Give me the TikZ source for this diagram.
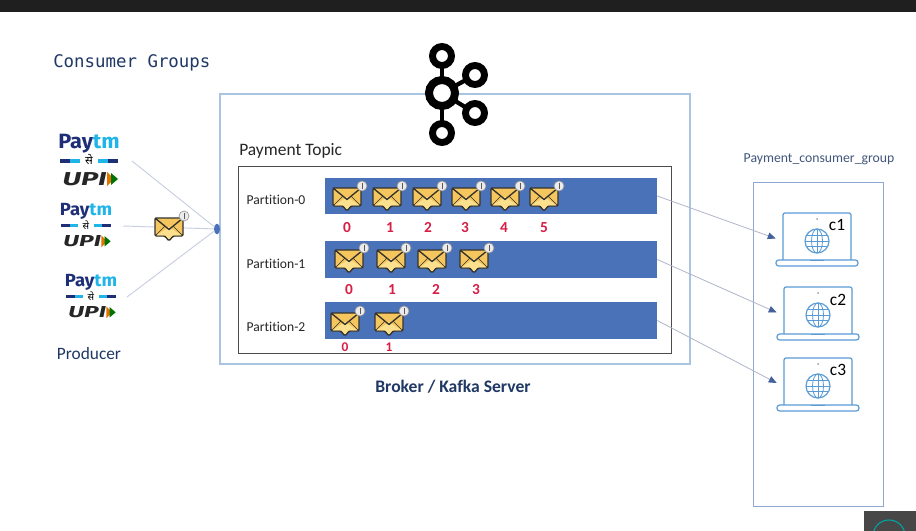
\documentclass[tikz,border=0pt]{standalone}
\usepackage{fontspec}
\setmainfont{Carlito}[Ligatures=NoCommon]
\newfontfamily\monof{DejaVu Sans Mono}
\newfontfamily\logof{Fira Sans}
\newfontfamily\devaf[Script=Devanagari]{Noto Sans}
\usetikzlibrary{arrows.meta,shapes.geometric}
\definecolor{navy}{HTML}{1F3864}
\definecolor{barblue}{HTML}{4A72B8}
\definecolor{boxblue}{HTML}{A9C4E0}
\definecolor{groupblue}{HTML}{8FA8CF}
\definecolor{lapblue}{HTML}{5B9BD5}
\definecolor{linkgrey}{HTML}{C8CFE0}
\definecolor{arrowgrey}{HTML}{B0B6CA}
\definecolor{tipblue}{HTML}{44619D}
\definecolor{envfill}{HTML}{F6C65E}
\definecolor{envlight}{HTML}{FCE08E}
\definecolor{envedge}{HTML}{33322E}
\definecolor{offred}{HTML}{D81E45}
\definecolor{ptmcyan}{HTML}{1FB5E8}
\definecolor{ptmnavy}{HTML}{1E2F78}
\tikzset{
  x=0.75pt,y=-0.75pt,
  bar/.style={draw=none,fill=barblue,minimum width=249pt,minimum height=27.5pt,inner sep=0pt},
  partlabel/.style={font=\fontsize{10.2}{11}\selectfont,text=black!85},
  offset/.style={font=\bfseries\fontsize{11.5}{12}\selectfont,text=offred,inner sep=0pt,anchor=base},
  offsetsmall/.style={font=\bfseries\fontsize{10}{11}\selectfont,text=offred,inner sep=0pt,anchor=base},
  heading/.style={text=navy,inner sep=0pt},
  link/.style={draw=linkgrey,line width=0.7pt},
  flow/.style={draw=arrowgrey,line width=0.6pt,-{Triangle[length=6pt,width=5pt,color=tipblue,fill=tipblue]}},
  lapnode/.style={minimum width=61.5pt,minimum height=38pt,inner sep=0pt,draw=none},
  clabel/.style={font=\fontsize{13}{14}\selectfont,text=black,inner sep=0pt},
  kring/.style={draw=black,line width=5.2pt,fill=none},
  kcore/.style={draw=black,line width=6pt,fill=none},
  envelope/.pic={
    \draw[envedge,line width=1.1pt,fill=envfill,rounded corners=1pt,line join=round]
      (-14,-10) -- (14,-10) -- (14,8) -- (4,8) -- (0,13) -- (-4,8) -- (-14,8) -- cycle;
    \fill[envlight] (-12.5,7.4) -- (0,-1) -- (12.5,7.4) -- (3.6,7.4) -- (0,11.5) -- (-3.6,7.4) -- cycle;
    \draw[envedge,line width=1pt,line join=round] (-14,-10) -- (0,1.5) -- (14,-10);
    \draw[envedge,line width=0.5pt] (-14,8) -- (-4,-2) (14,8) -- (4,-2);
    \draw[black!40,line width=0.5pt,fill=white!92!black] (15,-12) circle[radius=5];
    \draw[black!65,line width=0.7pt] (15,-15) -- (15,-9);
  },
  laptop/.pic={
    \draw[lapblue,line width=0.9pt,rounded corners=1.5pt] (-34,25) -- (-34,-22) -- (34,-22) -- (34,25);
    \draw[lapblue,line width=0.9pt,rounded corners=2pt,fill=white] (-41,25) rectangle (41,31);
    \draw[lapblue,line width=1pt] (-7,25.7) -- (7,25.7);
    \fill[lapblue!60!black!60] (0,-16) circle[radius=1];
    \draw[lapblue,line width=0.9pt] (0,6) circle[radius=12];
    \draw[lapblue,line width=0.6pt] (0,6) ellipse[x radius=5.5,y radius=12];
    \draw[lapblue,line width=0.6pt] (0,-6) -- (0,18) (-12,6) -- (12,6) (-10.6,0.5) -- (10.6,0.5) (-10.6,11.5) -- (10.6,11.5);
  }
}
\newcommand{\paytmlogo}[4]{%
  \pgfmathsetmacro{\fsa}{#4*15.5}%
  \pgfmathsetmacro{\fsb}{#4*8.5}%
  \pgfmathsetmacro{\fsc}{#4*14}%
  \begin{scope}[shift={(#2,#3)}]
    \node[inner sep=0pt,xscale=1.05,font=\logof\bfseries\fontsize{\fsa}{16}\selectfont] (#1-pay) at (0,-17.5*#4) {\textcolor{ptmnavy}{Pay}\textcolor{ptmcyan}{tm}};
    \node[inner sep=0pt,text=black,font=\devaf\bfseries\fontsize{\fsb}{10}\selectfont] (#1-se) at (0,-1*#4) {से};
    \fill[ptmnavy] (-29*#4,-2*#4) rectangle (-9*#4,1.5*#4);
    \fill[ptmcyan] (-19*#4,-2*#4) rectangle (-9*#4,1.5*#4);
    \fill[ptmnavy] (9*#4,-2*#4) rectangle (29*#4,1.5*#4);
    \fill[ptmcyan] (9*#4,-2*#4) rectangle (19*#4,1.5*#4);
    \node[inner sep=0pt,text=black!85,anchor=east,xscale=1.55,font=\logof\bfseries\itshape\fontsize{\fsc}{20}\selectfont] (#1-upi) at (18*#4,18*#4) {UPI};
    \fill[orange!90!black] (18*#4,11*#4) -- (25*#4,18*#4) -- (18*#4,25*#4) -- cycle;
    \fill[green!45!black] (22*#4,12*#4) -- (29*#4,18*#4) -- (22*#4,24*#4) -- cycle;
  \end{scope}%
}
\begin{document}
\begin{tikzpicture}
\useasboundingbox (0,0) rectangle (916,531);
\fill[white] (0,0) rectangle (916,531);
\fill[black!88] (0,0) rectangle (916,12);
% bottom corner
\fill[black!72] (864,511) rectangle (916,531);
\begin{scope}
  \clip (864,511) rectangle (916,531);
  \draw[teal!70!cyan,line width=0.8pt] (889,536) circle[radius=16];
\end{scope}

\node[heading,anchor=west,font=\monof\fontsize{13.05}{14}\selectfont] (title) at (53,63) {Consumer Groups};

% broker and topic
\node[draw=boxblue,line width=0.8pt,minimum width=352.5pt,minimum height=202.5pt,inner sep=0pt] (broker) at (455,229) {};
\node[draw=black!70,line width=0.7pt,minimum width=324.7pt,minimum height=140.2pt,inner sep=0pt] (topic) at (454.5,259.5) {};
\node[anchor=west,inner sep=0pt,text=black!85,font=\fontsize{13.1}{14}\selectfont] (topiclabel) at (239,150.5) {Payment Topic};

% kafka logo
\draw[black,line width=3.2pt] (442,60) -- (442,130);
\draw[black,line width=3.2pt] (442,93) -- (475,75) (442,93) -- (475,113);
\fill[white] (442,93) circle[radius=11];
\fill[white] (442,56) circle[radius=8];
\fill[white] (475,75) circle[radius=8];
\fill[white] (475,113) circle[radius=8];
\fill[white] (442,133) circle[radius=8];
\draw[kcore] (442,93) circle[radius=13];
\draw[kring] (442,56) circle[radius=9.5];
\draw[kring] (475,75) circle[radius=9.5];
\draw[kring] (475,113) circle[radius=9.5];
\draw[kring] (442,133) circle[radius=9.5];

% partitions
\node[bar] (bar0) at (491,196) {};
\node[bar] (bar1) at (491,259.5) {};
\node[bar] (bar2) at (491,320.5) {};
\node[partlabel] (part0) at (276,199.5) {Partition-0};
\node[partlabel] (part1) at (276,263.5) {Partition-1};
\node[partlabel] (part2) at (276,326.5) {Partition-2};

\foreach \x in {347,387,427,466,505,544} \pic at (\x,198) {envelope};
\foreach \x in {349,391,432,474} \pic at (\x,260) {envelope};
\foreach \x in {345,389} \pic at (\x,323) {envelope};

\foreach \x/\t in {347/0,390/1,428/2,465/3,504/4,544/5} \node[offset] (a\t) at (\x,232) {\t};
\foreach \x/\t in {349/0,392/1,436/2,476/3} \node[offset] (b\t) at (\x,294) {\t};
\foreach \x/\t in {345/0,389/1} \node[offsetsmall] (d\t) at (\x,351.5) {\t};

\node[heading,font=\bfseries\fontsize{13.2}{14}\selectfont] (brokerlabel) at (453,386.5) {Broker / Kafka Server};

% producers
\paytmlogo{p1}{89}{161}{1}
\paytmlogo{p2}{86}{226}{0.85}
\paytmlogo{p3}{91}{297}{0.85}
\node[heading,font=\fontsize{13}{14}\selectfont] (producer) at (89,353.5) {Producer};
\coordinate (out1) at (132,161);
\coordinate (out2) at (123,226);
\coordinate (out3) at (127,297);
\node[ellipse,fill=barblue,minimum width=4.5pt,minimum height=8pt,inner sep=0pt] (hub) at (217,229) {};
\draw[link] (out1) -- (hub);
\draw[link] (out2) -- (hub);
\draw[link] (out3) -- (hub);
\pic at (169,228) {envelope};

% consumers
\node[heading,text=navy!85,font=\fontsize{10.3}{11}\selectfont] (grouplabel) at (819,159.5) {Payment\_consumer\_group};
\node[draw=groupblue,line width=0.7pt,minimum width=97.5pt,minimum height=243pt,inner sep=0pt] (group) at (818,344) {};
\node[lapnode] (lap1) at (817,238.5) {};
\node[lapnode] (lap2) at (818,312.5) {};
\node[lapnode] (lap3) at (818,383) {};
\pic at (817,235) {laptop};
\pic at (818,309) {laptop};
\pic at (818,380) {laptop};
\node[clabel] (c1) at (837,225) {c1};
\node[clabel] (c2) at (838,300) {c2};
\node[clabel] (c3) at (838,370) {c3};
\draw[flow] (bar0.east) -- (lap1.west);
\draw[flow] (bar1.east) -- (lap2.west);
\draw[flow] (bar2.east) -- (lap3.west);
\end{tikzpicture}
\end{document}
